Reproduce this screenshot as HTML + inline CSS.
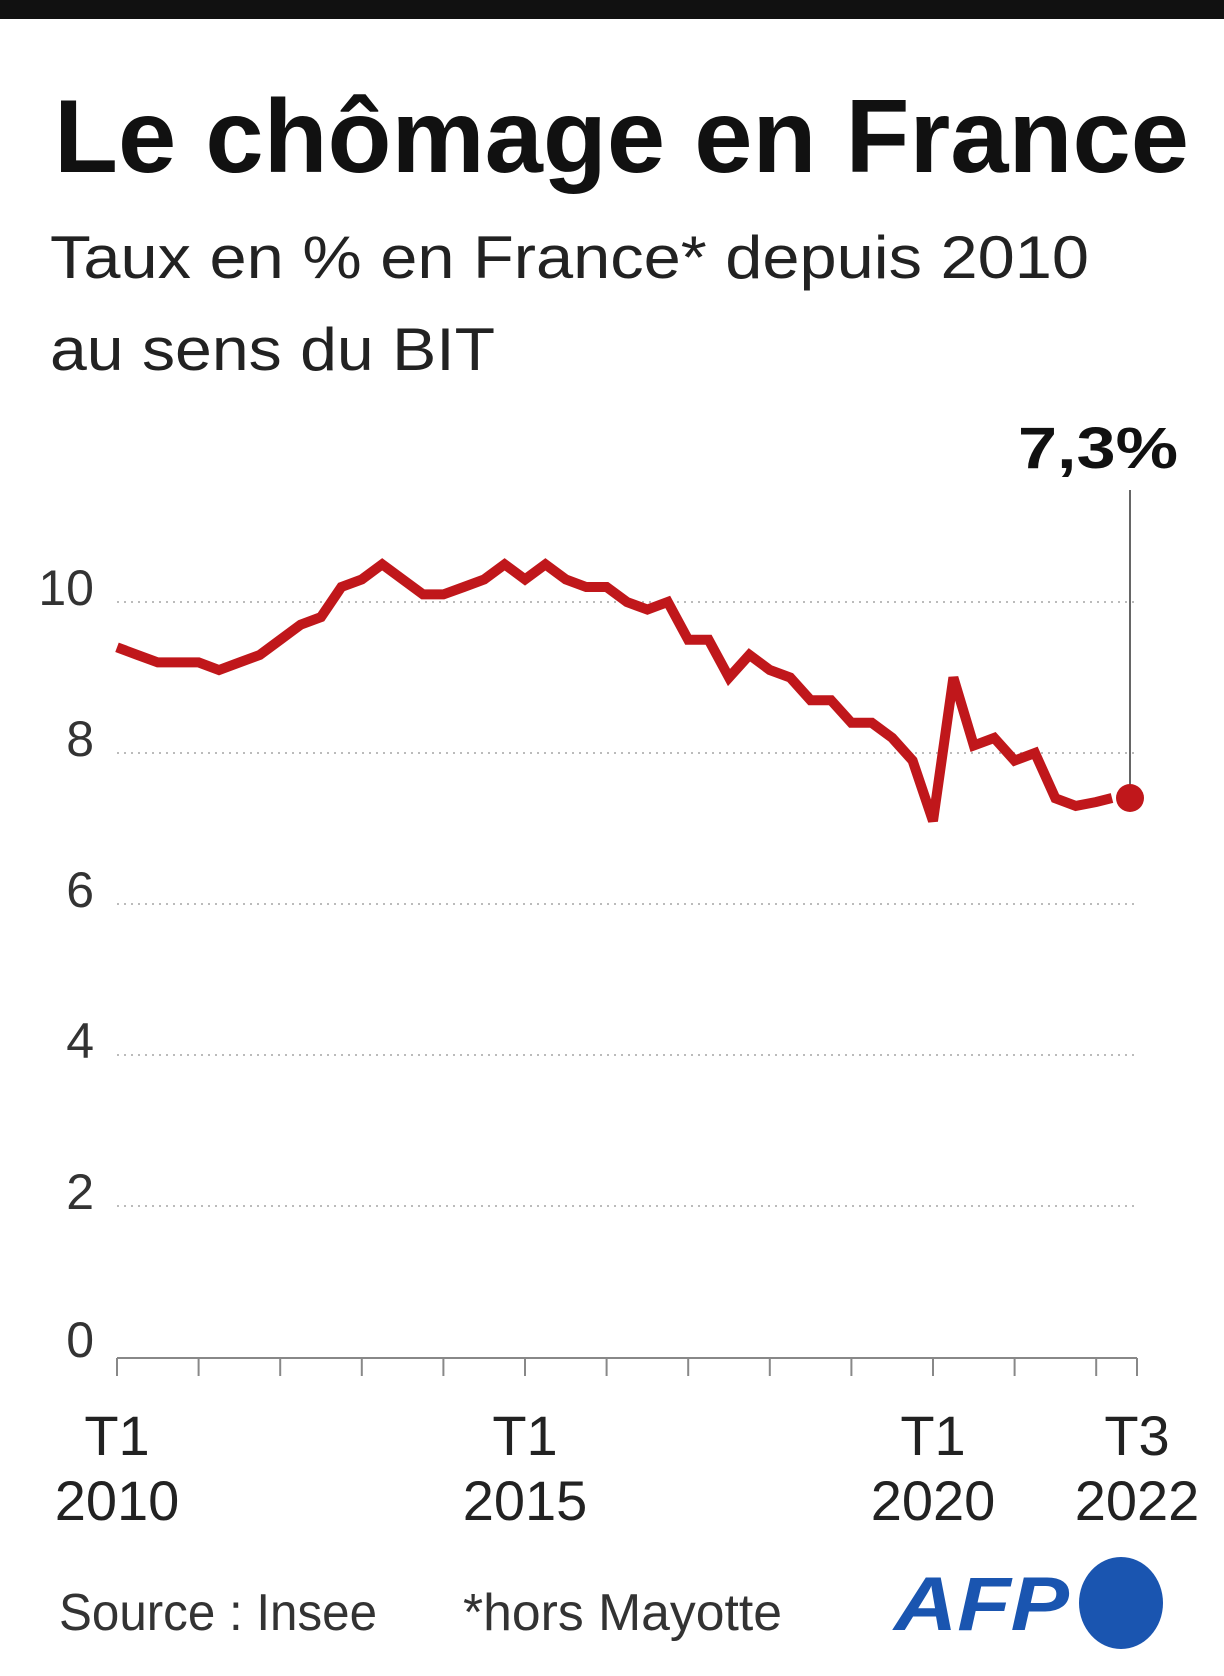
<!DOCTYPE html>
<html><head><meta charset="utf-8"><style>
html,body{margin:0;padding:0;background:#fff}
svg{display:block}
text{font-family:"Liberation Sans",sans-serif}
</style></head><body>
<svg width="1224" height="1676" viewBox="0 0 1224 1676" xmlns="http://www.w3.org/2000/svg">
<rect x="0" y="0" width="1224" height="19" fill="#111"/>
<text x="54" y="172" font-size="104" font-weight="bold" fill="#111" textLength="1135" lengthAdjust="spacingAndGlyphs">Le chômage en France</text>
<text x="50" y="278" font-size="60" fill="#222" textLength="1039" lengthAdjust="spacingAndGlyphs">Taux en % en France* depuis 2010</text>
<text x="50" y="370" font-size="60" fill="#222" textLength="445" lengthAdjust="spacingAndGlyphs">au sens du BIT</text>
<text x="1178" y="468" font-size="58" font-weight="bold" fill="#111" text-anchor="end" textLength="160" lengthAdjust="spacingAndGlyphs">7,3%</text>
<line x1="1130" y1="490" x2="1130" y2="790" stroke="#333" stroke-width="1.5"/>
<g stroke="#bbb" stroke-width="2" stroke-dasharray="2 5">
<line x1="117" y1="602" x2="1137" y2="602"/>
<line x1="117" y1="753" x2="1137" y2="753"/>
<line x1="117" y1="904" x2="1137" y2="904"/>
<line x1="117" y1="1055" x2="1137" y2="1055"/>
<line x1="117" y1="1206" x2="1137" y2="1206"/>
</g>
<g font-size="50" fill="#333" text-anchor="end">
<text x="94" y="605">10</text>
<text x="94" y="756">8</text>
<text x="94" y="907">6</text>
<text x="94" y="1058">4</text>
<text x="94" y="1209">2</text>
<text x="94" y="1357">0</text>
</g>
<g stroke="#888" stroke-width="2">
<line x1="117" y1="1358" x2="1137" y2="1358"/>
<line x1="117" y1="1358" x2="117" y2="1376"/><line x1="198.6" y1="1358" x2="198.6" y2="1376"/>
<line x1="280.2" y1="1358" x2="280.2" y2="1376"/><line x1="361.8" y1="1358" x2="361.8" y2="1376"/>
<line x1="443.4" y1="1358" x2="443.4" y2="1376"/><line x1="525" y1="1358" x2="525" y2="1376"/>
<line x1="606.6" y1="1358" x2="606.6" y2="1376"/><line x1="688.2" y1="1358" x2="688.2" y2="1376"/>
<line x1="769.8" y1="1358" x2="769.8" y2="1376"/><line x1="851.4" y1="1358" x2="851.4" y2="1376"/>
<line x1="933" y1="1358" x2="933" y2="1376"/><line x1="1014.6" y1="1358" x2="1014.6" y2="1376"/>
<line x1="1096.2" y1="1358" x2="1096.2" y2="1376"/><line x1="1137" y1="1358" x2="1137" y2="1376"/>
</g>
<g font-size="56" fill="#222" text-anchor="middle">
<text x="117" y="1455">T1</text><text x="117" y="1520">2010</text>
<text x="525" y="1455">T1</text><text x="525" y="1520">2015</text>
<text x="933" y="1455">T1</text><text x="933" y="1520">2020</text>
<text x="1137" y="1455">T3</text><text x="1137" y="1520">2022</text>
</g>
<polyline fill="none" stroke="#c0171b" stroke-width="10" stroke-linejoin="miter" points="
117,647.3 137.4,654.9 157.8,662.4 178.2,662.4
198.6,662.4 219,670 239.4,662.4 259.8,654.9
280.2,639.8 300.6,624.7 321,617.1 341.4,587
361.8,579.4 382.2,564.3 402.6,579.4 423,594.4
443.4,594.4 463.8,587 484.2,579.4 504.6,564.3
525,579.4 545.4,564.3 565.8,579.4 586.2,587
606.6,587 627,602 647.4,609.6 667.8,602
688.2,639.8 708.6,639.8 729,677.5 749.4,654.9
769.8,670 790.2,677.5 810.6,700.2 831,700.2
851.4,722.8 871.8,722.8 892.2,737.9 912.6,760.6
933,821 953.4,677.5 973.8,745.5 994.2,737.9
1014.6,760.6 1035,753 1055.4,798.3 1075.8,805.9 1096.2,802 1112,798"/>
<circle cx="1130" cy="798" r="14" fill="#c0171b"/>
<text x="59" y="1630" font-size="52" fill="#333" textLength="318" lengthAdjust="spacingAndGlyphs">Source : Insee</text>
<text x="463" y="1630" font-size="52" fill="#333" textLength="319" lengthAdjust="spacingAndGlyphs">*hors Mayotte</text>
<text x="894" y="1630" font-size="76" font-weight="bold" font-style="italic" fill="#1a55b0" textLength="175" lengthAdjust="spacingAndGlyphs">AFP</text>
<ellipse cx="1121" cy="1603" rx="42" ry="46" fill="#1a55b0"/>
</svg>
</body></html>
